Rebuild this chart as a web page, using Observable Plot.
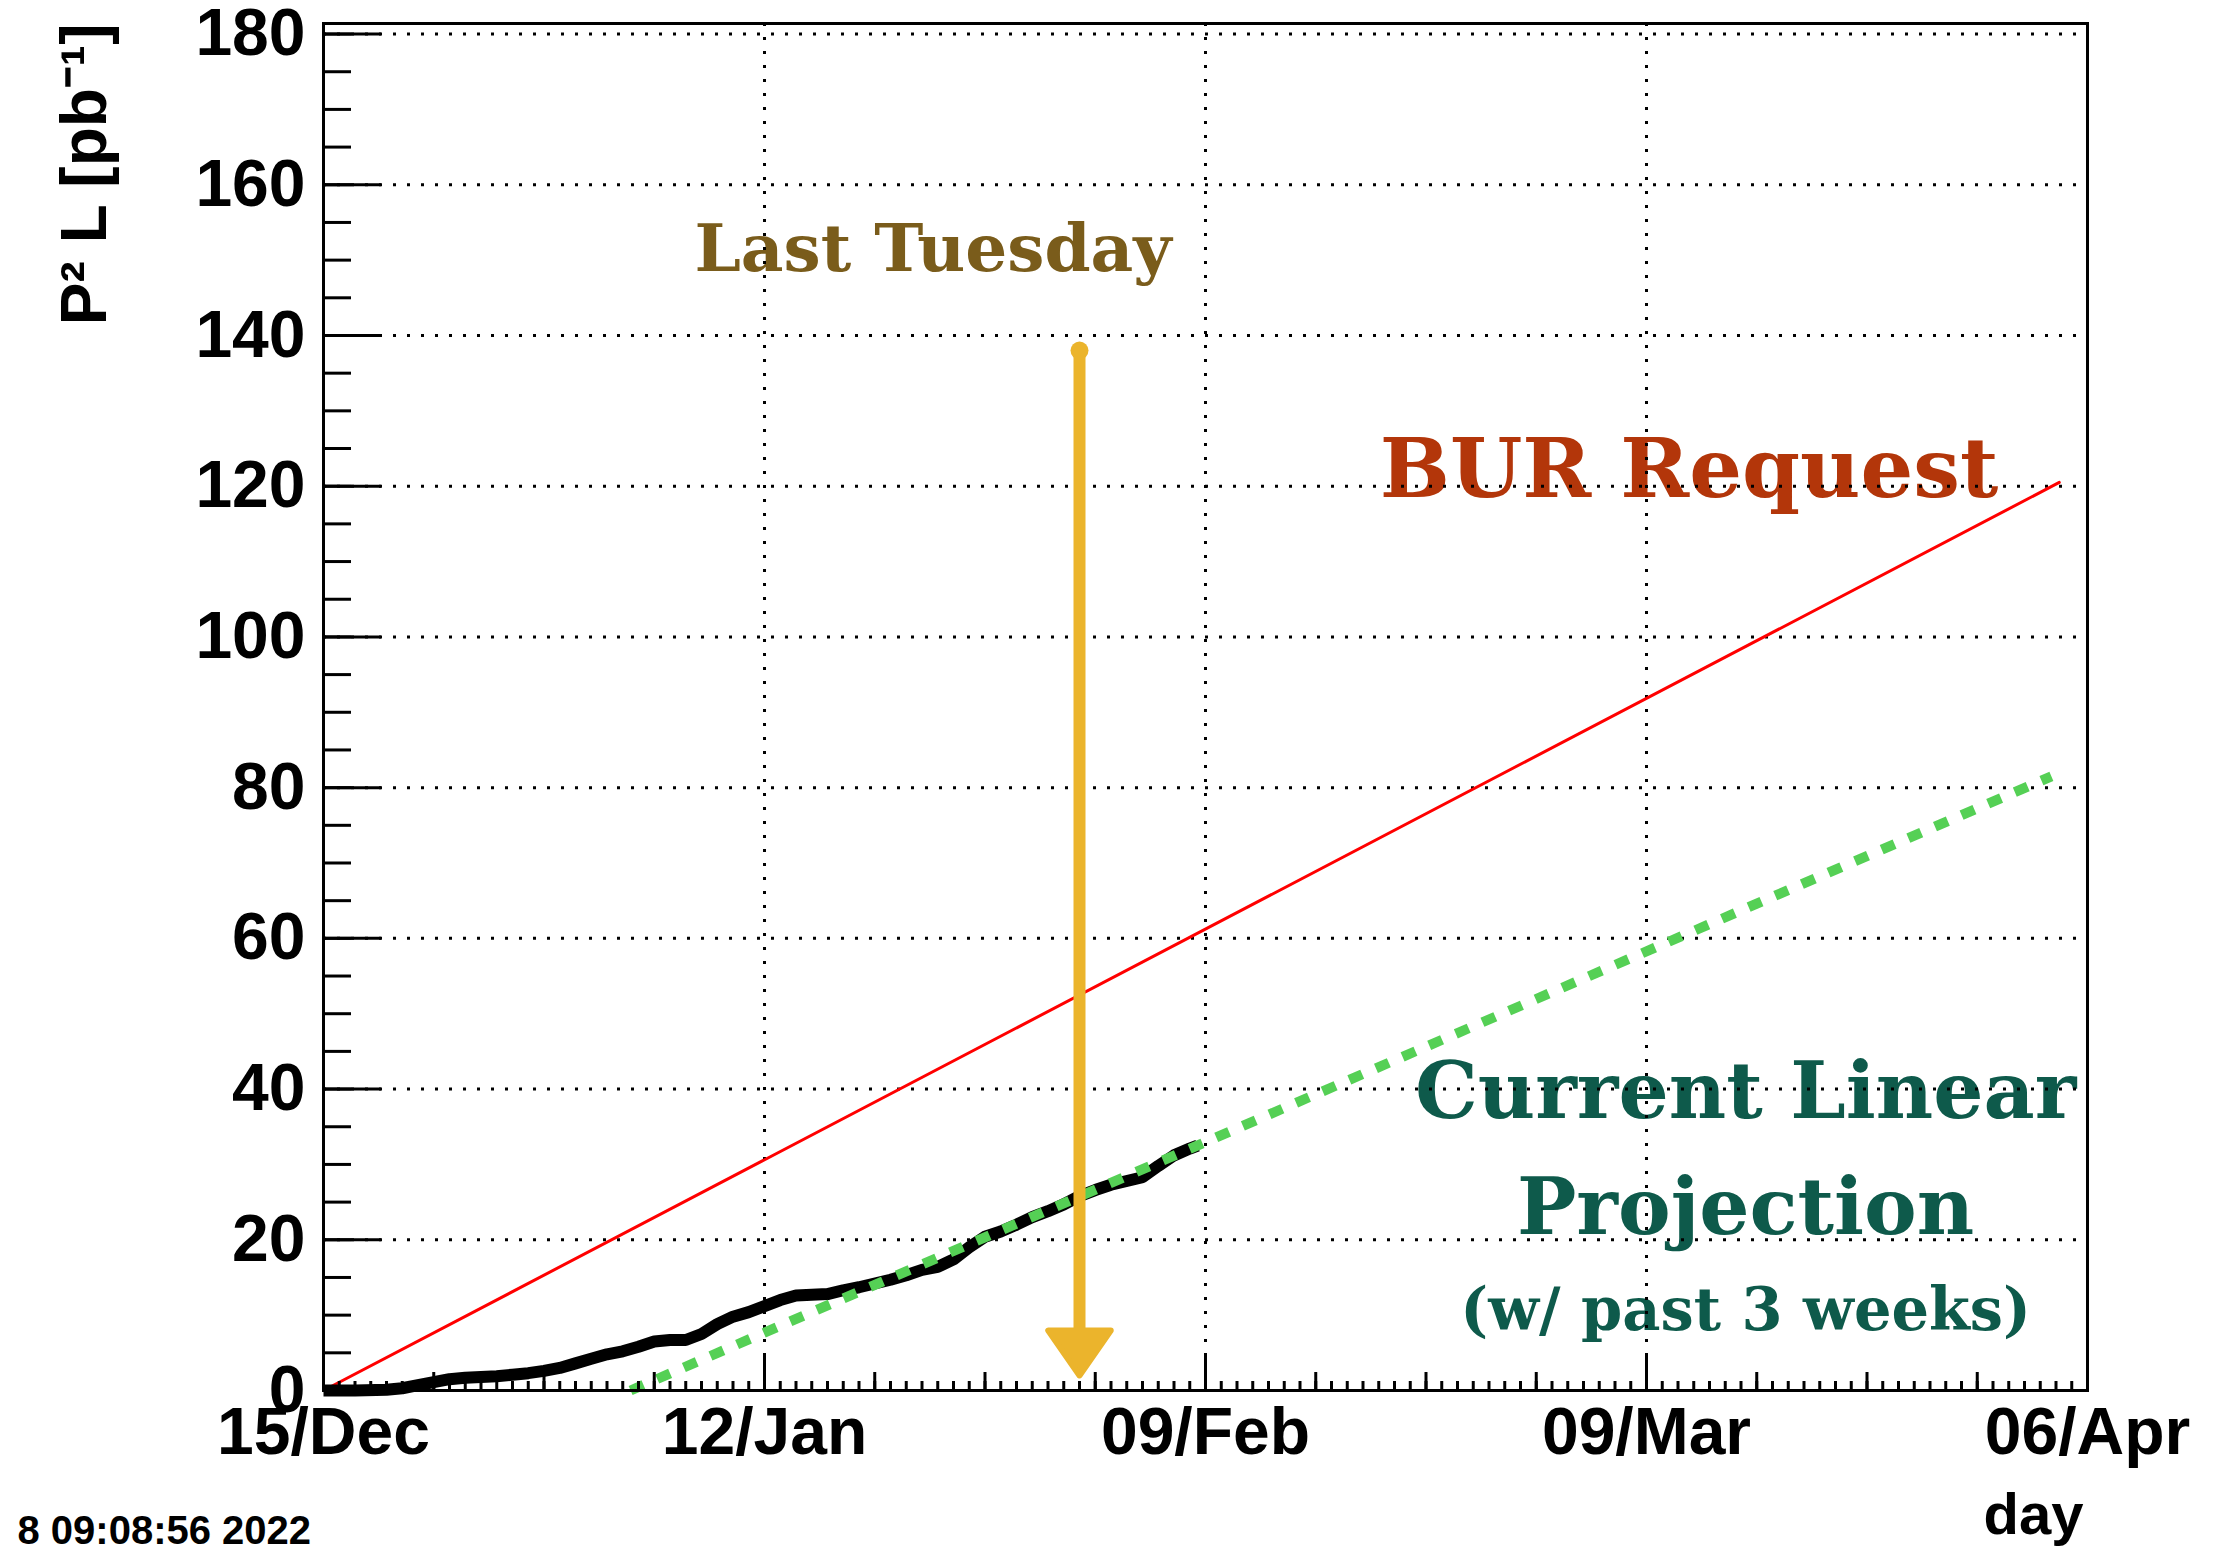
<!DOCTYPE html>
<html>
<head>
<meta charset="utf-8">
<script src="https://cdn.jsdelivr.net/npm/d3@7"></script>
<script src="https://cdn.jsdelivr.net/npm/@observablehq/plot@0.6"></script>
<style>
  html, body { margin: 0; padding: 0; background: #ffffff; }
  svg { display: block; }
</style>
</head>
<body>
<div id="chart"></div>
<script>
// ---- data ----
// cumulative P^2 L (pb^-1) of the run, by date
const lumiDates = [
  "2021-12-15","2021-12-17","2021-12-19","2021-12-20","2021-12-21","2021-12-22","2021-12-23",
  "2021-12-24","2021-12-25","2021-12-26","2021-12-27","2021-12-28","2021-12-29","2021-12-30",
  "2021-12-31","2022-01-01","2022-01-02","2022-01-03","2022-01-04","2022-01-05","2022-01-06",
  "2022-01-07","2022-01-08","2022-01-09","2022-01-10","2022-01-11","2022-01-12","2022-01-13",
  "2022-01-14","2022-01-15","2022-01-16","2022-01-17","2022-01-18","2022-01-19","2022-01-20",
  "2022-01-21","2022-01-22","2022-01-23","2022-01-24","2022-01-25","2022-01-26","2022-01-27",
  "2022-01-28","2022-01-29","2022-01-30","2022-01-31","2022-02-01","2022-02-02","2022-02-03",
  "2022-02-04","2022-02-05","2022-02-06","2022-02-07","2022-02-08","2022-02-08T12:00Z"
];
const lumiValues = [
  0, 0, 0.1, 0.3, 0.7, 1.1, 1.5,
  1.7, 1.8, 1.9, 2.1, 2.3, 2.6, 3.0,
  3.6, 4.2, 4.8, 5.2, 5.8, 6.5, 6.7,
  6.7, 7.5, 8.8, 9.8, 10.4, 11.2, 12.0,
  12.6, 12.7, 12.8, 13.3, 13.7, 14.2, 14.7,
  15.3, 16.0, 16.4, 17.4, 19.0, 20.4, 21.1,
  22.0, 23.0, 23.8, 24.7, 25.8, 26.6, 27.3,
  27.8, 28.3, 29.8, 31.2, 32.1, 32.5
];
// BUR request line
const requestDates = ["2021-12-15", "2022-04-04T05:00Z"];
const requestValues = [0, 120.5];
// current linear projection (past 3 weeks)
const projDates = ["2022-01-03T12:00Z", "2022-04-03T17:00Z"];
const projValues = [0, 81.5];
// "Last Tuesday" arrow
const arrowDate = "2022-02-01";
const arrowTop = 138;
const arrowTip = 2;
// annotation texts and their anchors
const noteTexts  = ["Last Tuesday", "BUR Request", "Current Linear", "Projection", "(w/ past 3 weeks)"];
const noteDates  = ["2022-01-22T16:48Z", "2022-03-11T16:48Z", "2022-03-15T07:00Z", "2022-03-15T07:00Z", "2022-03-15T07:00Z"];
const noteValues = [148.6, 118.6, 36.2, 20.8, 8.0];
// axes
const xMajorTicks = ["2021-12-15", "2022-01-12", "2022-02-09", "2022-03-09", "2022-04-06"];
const yMajorTicks = [0, 20, 40, 60, 80, 100, 120, 140, 160, 180];
const yLabel = "P² L [pb⁻¹]";
const xLabel = "day";
const stamp = "8 09:08:56 2022";

// ---- build tables ----
const toDate = (s) => new Date(s.length === 10 ? s + "T00:00Z" : s);
const lumi = lumiDates.map((d, i) => ({date: toDate(d), value: lumiValues[i]}));
const request = requestDates.map((d, i) => ({date: toDate(d), value: requestValues[i]}));
const proj = projDates.map((d, i) => ({date: toDate(d), value: projValues[i]}));
const arrow = [{date: toDate(arrowDate), top: arrowTop, tip: arrowTip}];
const notes = noteTexts.map((t, i) => ({text: t, date: toDate(noteDates[i]), value: noteValues[i]}));
const xMajor = xMajorTicks.map(toDate);
const xStart = xMajor[0], xEnd = xMajor[xMajor.length - 1];
const xDays = d3.utcDay.range(xStart, xEnd);
const xWeeks = d3.range(0, 113, 7).map(k => d3.utcDay.offset(xStart, k));
const yMinor = d3.range(0, 181, 5);

// ---- layout ----
const W = 2238, H = 1556;
const M = {top: 23, right: 151, bottom: 166, left: 323};
const FW = W - M.left - M.right;
const FH = H - M.top - M.bottom;

const sans = "'Liberation Sans', Arial, Helvetica, sans-serif";
const serif = "'DejaVu Serif', 'Liberation Serif', serif";
const yellow = "#ebb42c";

const arrowHead = {
  draw(ctx, size) {
    const r = Math.sqrt(size / Math.PI);
    ctx.moveTo(0, 0);
    ctx.lineTo(-1.25 * r, -1.8 * r);
    ctx.lineTo(1.25 * r, -1.8 * r);
    ctx.closePath();
  }
};

const noteMark = (i, opts) => Plot.text([notes[i]], {
  x: "date", y: "value", text: "text",
  textAnchor: "middle", lineAnchor: "bottom",
  fontFamily: serif, fontWeight: "bold", ariaLabel: "note", ...opts
});

const chart = Plot.plot({
  width: W, height: H,
  marginTop: M.top, marginRight: M.right, marginBottom: M.bottom, marginLeft: M.left,
  style: {background: "#ffffff", fontFamily: sans, color: "black"},
  x: {type: "utc", domain: [xStart, xEnd], label: null},
  y: {domain: [0, 181.4], label: null},
  marks: [
    // annotations
    noteMark(0, {fill: "#7a5c1b", fontSize: 66}),
    noteMark(1, {fill: "#b3360a", fontSize: 83}),
    noteMark(2, {fill: "#0e5a4b", fontSize: 79}),
    noteMark(3, {fill: "#0e5a4b", fontSize: 79}),
    noteMark(4, {fill: "#0e5a4b", fontSize: 59}),
    // dotted grid
    Plot.gridY(yMajorTicks.filter(v => v > 0), {stroke: "black", strokeOpacity: 1, strokeWidth: 3, strokeDasharray: "3,11"}),
    Plot.gridX(xMajor.slice(1, -1), {stroke: "black", strokeOpacity: 1, strokeWidth: 3, strokeDasharray: "3,11"}),
    // BUR request
    Plot.line(request, {x: "date", y: "value", stroke: "#ff0000", strokeWidth: 3}),
    // delivered
    Plot.line(lumi, {x: "date", y: "value", stroke: "black", strokeWidth: 12, strokeLinejoin: "round", strokeLinecap: "butt"}),
    // projection
    Plot.line(proj, {x: "date", y: "value", stroke: "#55d055", strokeWidth: 10, strokeDasharray: "14,15", strokeLinecap: "butt"}),
    // last Tuesday arrow
    Plot.ruleX(arrow, {x: "date", y1: "top", y2: "tip", insetBottom: 30, stroke: yellow, strokeWidth: 12, strokeLinecap: "round"}),
    Plot.dot(arrow, {x: "date", y: "top", r: 9, fill: yellow}),
    Plot.dot(arrow, {x: "date", y: "tip", r: 25, symbol: arrowHead, fill: yellow, stroke: yellow, strokeWidth: 6, strokeLinejoin: "round"}),
    // frame and inward ticks
    Plot.frame({stroke: "black", strokeWidth: 3}),
    Plot.tickY(yMajorTicks, {y: d => d, insetRight: FW - 58, stroke: "black", strokeWidth: 3}),
    Plot.tickY(yMinor, {y: d => d, insetRight: FW - 28, stroke: "black", strokeWidth: 3}),
    Plot.tickX(xDays, {x: d => d, insetTop: FH - 9, stroke: "black", strokeWidth: 3}),
    Plot.tickX(xWeeks, {x: d => d, insetTop: FH - 18, stroke: "black", strokeWidth: 3}),
    Plot.tickX(xMajor, {x: d => d, insetTop: FH - 37, stroke: "black", strokeWidth: 3}),
    // tick labels
    Plot.axisY(yMajorTicks, {tickSize: 0, tickPadding: 18, fontSize: 66, fontWeight: "bold", label: null}),
    Plot.axisX(xMajor, {tickSize: 0, tickPadding: 17, fontSize: 66, fontWeight: "bold", label: null, tickFormat: d3.utcFormat("%d/%b")}),
    // axis titles and time stamp
    Plot.text([yLabel], {frameAnchor: "top-left", rotate: -90, textAnchor: "end", lineAnchor: "bottom", dx: -218, dy: 0, fontSize: 64, fontWeight: "bold"}),
    Plot.text([xLabel], {frameAnchor: "bottom-right", textAnchor: "end", lineAnchor: "bottom", dx: -4, dy: 143, fontSize: 58, fontWeight: "bold"}),
    Plot.text([stamp], {frameAnchor: "bottom-left", textAnchor: "start", lineAnchor: "bottom", dx: -306, dy: 153, fontSize: 40, fontWeight: "bold"})
  ]
});
document.getElementById("chart").appendChild(chart);
</script>
</body>
</html>
